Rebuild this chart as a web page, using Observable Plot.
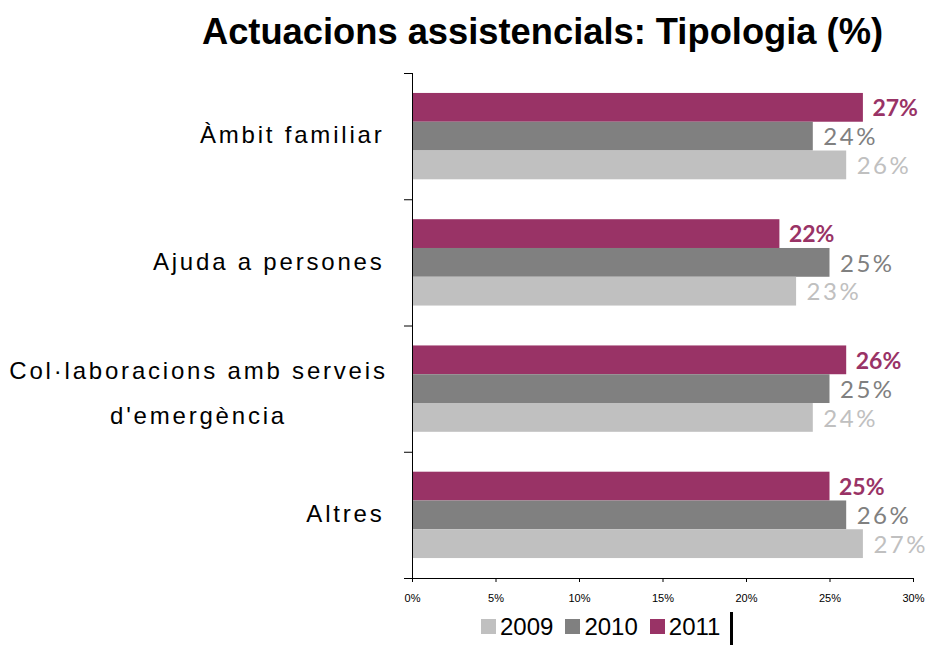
<!DOCTYPE html>
<html>
<head>
<meta charset="utf-8">
<script src="https://cdn.jsdelivr.net/npm/d3@7"></script>
<script src="https://cdn.jsdelivr.net/npm/@observablehq/plot@0.6"></script>
<style>
  html, body { margin: 0; padding: 0; background: #fff; }
  #wrap { width: 933px; position: relative; }
  #title { height: 60px; line-height: 64px; text-align: center; padding-left: 152px; box-sizing: border-box;
    font-family: "Liberation Sans", Arial, sans-serif; font-weight: bold; font-size: 36.3px; color: #000; white-space: nowrap; }
  #legend { height: 37px; display: flex; align-items: center; padding-left: 481px; box-sizing: border-box;
    font-family: "Liberation Sans", Arial, sans-serif; font-size: 24px; color: #000; }
  #legend .item { display: flex; align-items: center; margin-right: 12px; }
  #legend .sw { width: 15px; height: 15px; margin-right: 4px; }
  #legend .bar { width: 3px; height: 33px; background: #000; margin-left: -2px; align-self: flex-end; }
</style>
</head>
<body>
<div id="wrap">
  <div id="title">Actuacions assistencials: Tipologia (%)</div>
  <div id="chart"></div>
  <div id="legend"></div>
</div>
<script>
const categories = ["Àmbit familiar", "Ajuda a persones", "Col·laboracions amb serveis\nd'emergència", "Altres"];
const years = ["2011", "2010", "2009"];
const values2011 = [27, 22, 26, 25];
const values2010 = [24, 25, 25, 26];
const values2009 = [26, 23, 24, 27];
const xTicks = [0, 5, 10, 15, 20, 25, 30];
const legendYears = ["2009", "2010", "2011"];

const colors = {"2011": "#993366", "2010": "#808080", "2009": "#C0C0C0"};
const series = {"2011": values2011, "2010": values2010, "2009": values2009};

// layout within each category band (fractions of band)
const outer = 0.158, barH = 0.228;
const rows = [];
categories.forEach((c, i) => {
  years.forEach((yr, j) => {
    const v = series[yr][i];
    rows.push({cat: c, year: yr, value: v, y1: i + outer + j * barH, y2: i + outer + (j + 1) * barH, ym: i + outer + (j + 0.5) * barH});
  });
});
const catRows = categories.map((c, i) => ({cat: c, y: i + 0.5, multi: c.includes("\n")}));

const W = 933, H = 548;
const chart = Plot.plot({
  width: W,
  height: H,
  marginLeft: 412,
  marginRight: 20,
  marginTop: 13,
  marginBottom: 30,
  style: {fontFamily: "'Liberation Sans', Arial, sans-serif", background: "#fff", overflow: "visible"},
  x: {domain: [0, 30]},
  y: {domain: [0, 4], reverse: true},
  marks: [
    Plot.rect(rows, {x1: () => 0, x2: "value", y1: "y1", y2: "y2", fill: d => colors[d.year]}),
    Plot.axisX({ticks: xTicks, tickFormat: d => d + "%", tickSize: 4, tickPadding: 12, fontSize: 11, color: "#000", label: null}),
    Plot.axisY({ticks: [0, 1, 2, 3, 4], tickFormat: () => "", tickSize: 8, color: "#000", label: null}),
    Plot.ruleX([0], {y1: 0, y2: 4, stroke: "#000"}),
    Plot.ruleY([4], {x1: 0, x2: 30, stroke: "#000"}),
    Plot.text(catRows.filter(d => !d.multi), {x: 0, y: "y", text: "cat", textAnchor: "end", dx: -28, dy: -1, fontSize: 24, fill: "#000"}),
    Plot.text(catRows.filter(d => d.multi), {x: 0, y: "y", text: "cat", textAnchor: "middle", dx: -214, dy: -2, fontSize: 24, lineHeight: 1.85, fill: "#000"}),
    Plot.text(rows.filter(d => d.year === "2011"), {x: "value", y: "ym", text: d => d.value + "%", textAnchor: "start", dx: 9, dy: 1, fontSize: 23, fontWeight: "bold", fill: colors["2011"], fontFamily: "Lato, sans-serif"}),
    Plot.text(rows.filter(d => d.year !== "2011"), {x: "value", y: "ym", text: d => d.value + "%", textAnchor: "start", dx: 10, dy: 1, fontSize: 24, fill: d => colors[d.year], fontFamily: "Lato, sans-serif"})
  ]
});
document.getElementById("chart").appendChild(chart);

// letter-spacing for category labels and plain (non-bold) value labels
const catSet = new Set(categories.map(c => c.replace("\n", "")));
d3.select(chart).selectAll("text").each(function() {
  const t = this.textContent;
  const bold = this.parentNode && this.parentNode.getAttribute("font-weight") === "bold";
  if (catSet.has(t)) this.setAttribute("letter-spacing", "2.8px");
  else if (/^\d+%$/.test(t) && !bold && this.getAttribute("fill")) this.setAttribute("letter-spacing", "2.5px");
});

const legend = document.getElementById("legend");
legendYears.forEach(y => {
  const it = document.createElement("div");
  it.className = "item";
  it.innerHTML = `<div class="sw" style="background:${colors[y]}"></div><span>${y}</span>`;
  legend.appendChild(it);
});
const bar = document.createElement("div");
bar.className = "bar";
legend.appendChild(bar);
</script>
</body>
</html>
